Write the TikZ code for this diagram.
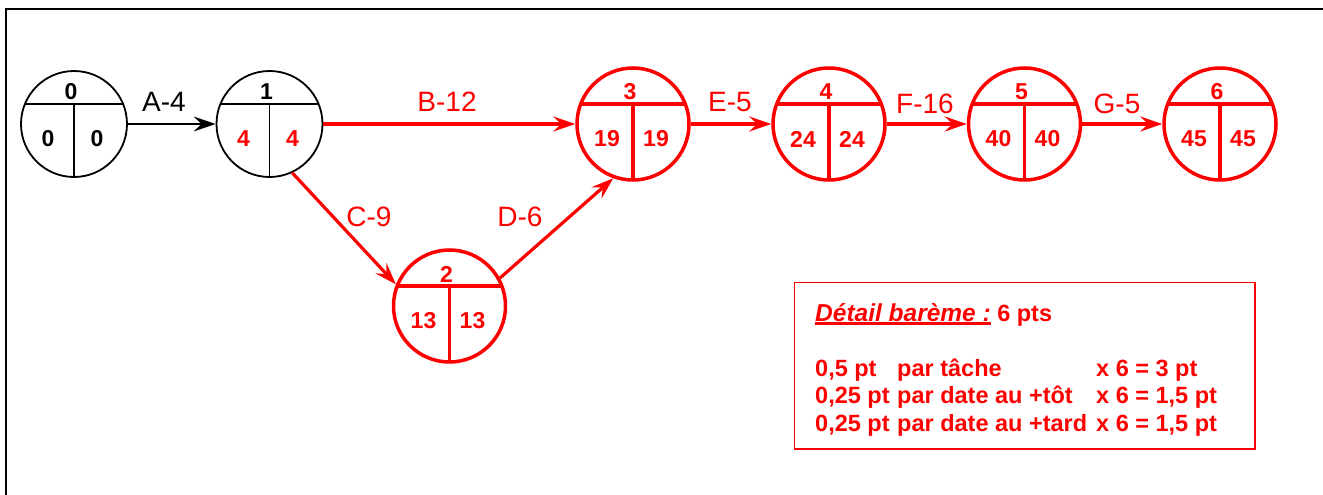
\documentclass[tikz,border=0pt]{standalone}
\usepackage{fontspec}
\setmainfont{Liberation Sans}
\usetikzlibrary{arrows.meta,calc}

% event node: name, position, radius, frame style, number colour, date colour, number, earliest, latest
\newcommand{\eventnode}[9]{%
  \node[evtcircle, #4, minimum size=2*#3] (#1) at (#2) {};
  \draw[#4] ($(#1.center)+({-sqrt(#3*#3-400)},-20)$) -- ($(#1.center)+({sqrt(#3*#3-400)},-20)$);
  \draw[#4] ($(#1.center)+(0,-20)$) -- ($(#1.center)+(0,#3)$);
  \node[evtnum, text=#5] (#1-num) at ($(#1.center)+(-3,-32)$) {#7};
  \node[evtnum, text=#6] (#1-early) at ($(#1.center)+(-26,15)$) {#8};
  \node[evtnum, text=#6] (#1-late) at ($(#1.center)+(23,15)$) {#9};
}

\begin{document}
\begin{tikzpicture}[x=1pt,y=-1pt,
  evtcircle/.style={circle, inner sep=0pt},
  redframe/.style={draw=red, line width=3.5pt},
  blackframe/.style={draw=black, line width=1.8pt},
  evtnum/.style={inner sep=0pt, font=\fontsize{23}{27}\selectfont\bfseries},
  tip/.style={-{Stealth[length=22pt, width=15pt, inset=8pt]}},
  blackedge/.style={tip, draw=black, line width=2.2pt},
  rededge/.style={tip, draw=red, line width=3.2pt},
  actlabel/.style={inner sep=0pt, font=\fontsize{28}{33}\selectfont},
  boxtext/.style={inner sep=0pt, anchor=base west, text=red, font=\fontsize{23.5}{28}\selectfont\bfseries},
  panel/.style={rectangle, inner sep=0pt}
]
\useasboundingbox (0,0) rectangle (1323,495);

% frame
\draw[line width=2pt] (6,495) -- (6,9) -- (1323,9);

% events
\eventnode{n0}{74,124}{53}{blackframe}{black}{black}{0}{0}{0}
\eventnode{n1}{269.5,124}{53}{blackframe}{black}{red}{1}{4}{4}
\eventnode{n2}{449.5,306}{56}{redframe}{red}{red}{2}{13}{13}
\eventnode{n3}{633,124}{56}{redframe}{red}{red}{3}{19}{19}
\eventnode{n4}{829,124}{56}{redframe}{red}{red}{4}{24}{24}
\eventnode{n5}{1024.5,124}{56}{redframe}{red}{red}{5}{40}{40}
\eventnode{n6}{1220,124}{56}{redframe}{red}{red}{6}{45}{45}

% activities
\draw[blackedge] (n0) -- (n1);
\draw[rededge] (n1) -- (n3);
\draw[rededge] (n1.-65) -- (n2.158);
\draw[rededge] (n2.29) -- (n3.-110);
\draw[rededge] (n3) -- (n4);
\draw[rededge] (n4) -- (n5);
\draw[rededge] (n5) -- (n6);

\node[actlabel] (lA) at (164,102) {A-4};
\node[actlabel, text=red] (lB) at (447,102) {B-12};
\node[actlabel, text=red] (lC) at (369,217) {C-9};
\node[actlabel, text=red] (lD) at (520,217) {D-6};
\node[actlabel, text=red] (lE) at (730,102) {E-5};
\node[actlabel, text=red] (lF) at (925,104) {F-16};
\node[actlabel, text=red] (lG) at (1117,104) {G-5};

% marking scheme
\node[panel, minimum width=460pt, minimum height=166pt, anchor=north west] (bareme) at (794.5,282.5) {};
\draw[red, line width=1.5pt] (bareme.north west) rectangle (bareme.south east);
\node[boxtext, font=\fontsize{24.5}{29}\selectfont\bfseries] (title) at (815,321) {\itshape Détail barème :};
\draw[red, line width=2.5pt] ($(title.base west)+(0,2.5)$) -- ($(title.base east)+(0,2.5)$);
\node[boxtext] (pts) at ($(title.base east)+(6,0)$) {6 pts};
\node[boxtext] (row1) at (815,376) {\makebox[82pt][l]{0,5 pt}\makebox[199pt][l]{par tâche}x 6 = 3 pt};
\node[boxtext] (row2) at (815,403.5) {\makebox[82pt][l]{0,25 pt}\makebox[199pt][l]{par date au +tôt}x 6 = 1,5 pt};
\node[boxtext] (row3) at (815,431.5) {\makebox[82pt][l]{0,25 pt}\makebox[199pt][l]{par date au +tard}x 6 = 1,5 pt};
\end{tikzpicture}
\end{document}
